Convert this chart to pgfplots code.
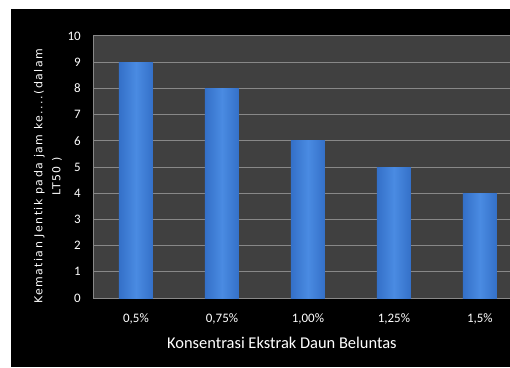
\documentclass[border=0pt]{standalone}
\usepackage{pgfplots}
\pgfplotsset{compat=1.18}
\usepackage{fontspec}
\setmainfont{Carlito}
\newfontfamily\ylabfont[LetterSpace=13]{DejaVu Sans}
\definecolor{plotbg}{HTML}{404040}
\definecolor{gridc}{HTML}{888888}
\definecolor{barmid}{HTML}{4A8BE2}
\definecolor{baredge}{HTML}{3470C8}
\begin{document}
\begin{tikzpicture}[x=1bp,y=1bp]
\fill[white] (0,0) rectangle (510,367);
\fill[black] (11,0) rectangle (510,358);
\begin{axis}[
  at={(93bp,69bp)}, anchor=south west,
  width=417bp, height=262bp, scale only axis,
  xmin=-0.5, xmax=4.35, ymin=0, ymax=10,
  ytick={0,1,...,10}, xtick={0,1,2,3,4},
  xticklabels={{0,5\%},{0,75\%},{1,00\%},{1,25\%},{1,5\%}},
  axis background/.style={fill=plotbg},
  axis x line*=bottom, axis y line*=left,
  axis line style={draw=gridc, line width=1bp, -},
  ymajorgrids, major grid style={draw=gridc, line width=1bp},
  major tick length=0pt,
  /pgf/number format/assume math mode=true,
  yticklabel style={font=\fontsize{13}{13}\selectfont, text=white, anchor=east, inner sep=0pt, xshift=-12bp},
  xticklabel style={font=\fontsize{13}{13}\selectfont, text=white, anchor=north, inner sep=0pt, yshift=-15bp},
  xlabel={Konsentrasi Ekstrak Daun Beluntas},
  xlabel style={font=\fontsize{16.5}{16.5}\selectfont, text=white, at={(axis description cs:0.453,-0.172)}, anchor=center},
  ylabel={Kematian Jentik pada jam ke....(dalam\\LT50 )},
  ylabel style={font=\ylabfont\fontsize{11}{18}\selectfont, text=white, align=center, at={(axis description cs:-0.108,0.464)}, anchor=center},
  ybar, bar width=34bp, bar shift=0pt,
  barstyle/.style={draw=none, left color=baredge, right color=baredge, middle color=barmid},
]
\addplot[barstyle] coordinates {(0,9)};
\addplot[barstyle] coordinates {(1,8)};
\addplot[barstyle] coordinates {(2,6)};
\addplot[barstyle] coordinates {(3,5)};
\addplot[barstyle] coordinates {(4,4)};
\end{axis}
\pgfresetboundingbox
\path (0,0) rectangle (510,367);
\end{tikzpicture}
\end{document}
